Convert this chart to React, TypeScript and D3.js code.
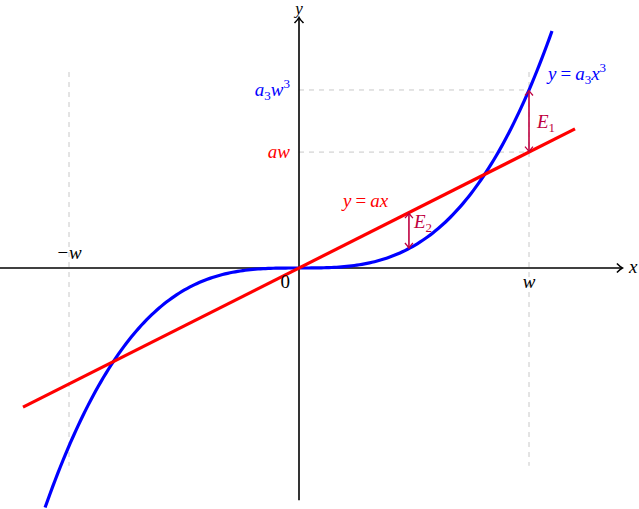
import React from 'react';
import * as d3 from 'd3';

// параметры кривых (в единицах w = 1)
const slopeA = 0.504; // y = a x
const coefA3 = 0.774; // y = a3 x^3
const lineDomain = [-1.2, 1.2];
const cubicDomain = [-1.104, 1.1];
const xAxisRange = [-1.3, 1.404];
const yAxisRange = [-1.01, 1.087];
const guideYRange = [-0.86, 0.852];
const wValue = 1;
const e2At = 0.478;

const W = 639;
const H = 509;
const PURPLE = '#bf0040';
const FONT = '"Liberation Serif", "DejaVu Serif", serif';

const App: React.FC = () => {
  const x = d3.scaleLinear().domain([0, 1]).range([299, 529]);
  const y = d3.scaleLinear().domain([0, 1]).range([268, 38]);

  const cubicPts = d3.range(0, 201).map((i) => {
    const t = cubicDomain[0] + ((cubicDomain[1] - cubicDomain[0]) * i) / 200;
    return [t, coefA3 * t * t * t] as [number, number];
  });
  const linePts = lineDomain.map((t) => [t, slopeA * t] as [number, number]);

  const path = d3
    .line<[number, number]>()
    .x((d) => x(d[0]))
    .y((d) => y(d[1]));

  const topW = coefA3 * wValue ** 3;
  const aw = slopeA * wValue;

  const dash = { stroke: '#c8c8c8', strokeWidth: 1, strokeDasharray: '5 5', fill: 'none' };

  return (
    <svg
      width={W}
      height={H}
      style={{ position: 'absolute', left: 0, top: 0, background: '#fff' }}
      fontFamily={FONT}
    >
      <defs>
        <marker id="axisArrow" viewBox="-6 -6 8 12" markerWidth={8} markerHeight={12}
          refX={0} refY={0} orient="auto" markerUnits="userSpaceOnUse">
          <path d="M-5,-4.5 Q-1.5,-1 0.5,0 Q-1.5,1 -5,4.5" fill="none" stroke="#000" strokeWidth={1.6} />
        </marker>
        <marker id="errArrow" viewBox="-6 -6 8 12" markerWidth={8} markerHeight={12}
          refX={0} refY={0} orient="auto-start-reverse" markerUnits="userSpaceOnUse">
          <path d="M-4.5,-4 Q-1.2,-1 0.5,0 Q-1.2,1 -4.5,4" fill="none" stroke={PURPLE} strokeWidth={1.3} />
        </marker>
      </defs>

      {/* вспомогательные пунктиры */}
      <line x1={x(-wValue)} x2={x(-wValue)} y1={y(guideYRange[1])} y2={y(guideYRange[0])} {...dash} />
      <line x1={x(wValue)} x2={x(wValue)} y1={y(guideYRange[1])} y2={y(guideYRange[0])} {...dash} />
      <line x1={x(0)} x2={x(wValue)} y1={y(topW)} y2={y(topW)} {...dash} />
      <line x1={x(0)} x2={x(wValue)} y1={y(aw)} y2={y(aw)} {...dash} />

      {/* оси */}
      <line x1={x(xAxisRange[0])} x2={x(xAxisRange[1])} y1={y(0)} y2={y(0)}
        stroke="#000" strokeWidth={1.6} markerEnd="url(#axisArrow)" />
      <line x1={x(0)} x2={x(0)} y1={y(yAxisRange[0])} y2={y(yAxisRange[1])}
        stroke="#000" strokeWidth={1.6} markerEnd="url(#axisArrow)" />

      {/* кривые */}
      <path d={path(cubicPts) ?? ''} fill="none" stroke="#0000ff" strokeWidth={3.2} />
      <path d={path(linePts) ?? ''} fill="none" stroke="#ff0000" strokeWidth={3.2} />

      {/* ошибки */}
      <line x1={x(wValue)} x2={x(wValue)} y1={y(topW) + 1} y2={y(aw) - 1}
        stroke={PURPLE} strokeWidth={1.6} markerStart="url(#errArrow)" markerEnd="url(#errArrow)" />
      <line x1={x(e2At)} x2={x(e2At)} y1={y(slopeA * e2At) + 1} y2={y(coefA3 * e2At ** 3) - 1}
        stroke={PURPLE} strokeWidth={1.6} markerStart="url(#errArrow)" markerEnd="url(#errArrow)" />

      {/* подписи */}
      <g fontSize={19} fontStyle="italic">
        <text x={x(xAxisRange[1]) + 7} y={y(0) + 5}>x</text>
        <text x={x(0)} y={14} fontSize={17} textAnchor="middle">y</text>
        <text x={x(0) - 9} y={y(0) + 20} textAnchor="end" fontStyle="normal">0</text>
        <text x={x(wValue)} y={y(0) + 20} textAnchor="middle">w</text>
        <text x={x(-wValue)} y={y(0) - 9} textAnchor="middle">−w</text>

        <text x={x(0) - 9} y={y(topW) + 6} textAnchor="end" fill="#0000ff">
          a<tspan fontSize={13} dy={4} fontStyle="normal">3</tspan>
          <tspan dy={-4}>w</tspan>
          <tspan fontSize={13} dy={-8} fontStyle="normal">3</tspan>
        </text>
        <text x={x(0) - 9} y={y(aw) + 6} textAnchor="end" fill="#ff0000">aw</text>

        <text x={548} y={y(topW) - 10} fill="#0000ff">
          y<tspan fontStyle="normal" dx={4}>=</tspan>
          <tspan dx={4}>a</tspan>
          <tspan fontSize={13} dy={4} fontStyle="normal">3</tspan>
          <tspan dy={-4}>x</tspan>
          <tspan fontSize={13} dy={-8} fontStyle="normal">3</tspan>
        </text>
        <text x={343} y={207} fill="#ff0000">
          y<tspan fontStyle="normal" dx={4}>=</tspan>
          <tspan dx={4}>ax</tspan>
        </text>

        <text x={x(wValue) + 8} y={128} fill={PURPLE}>
          E<tspan fontSize={13} dy={4} fontStyle="normal">1</tspan>
        </text>
        <text x={x(e2At) + 5} y={228} fill={PURPLE}>
          E<tspan fontSize={13} dy={4} fontStyle="normal">2</tspan>
        </text>
      </g>
    </svg>
  );
};

export default App;
